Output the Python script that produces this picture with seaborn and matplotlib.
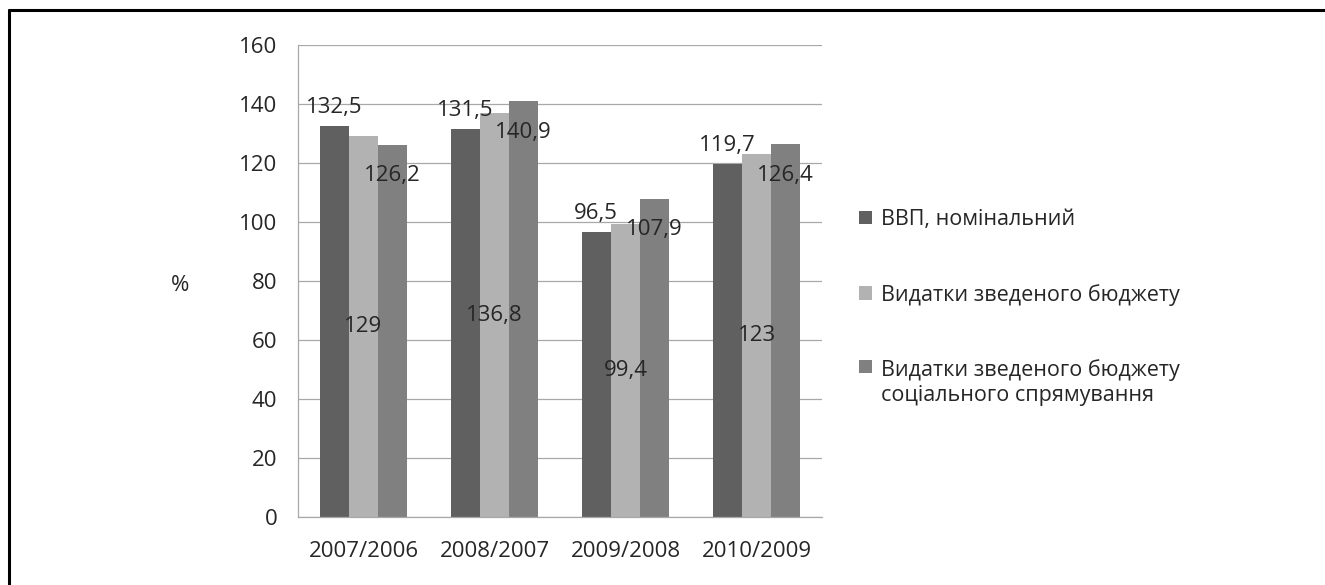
import pandas as pd
import seaborn as sns
import matplotlib.pyplot as plt
from matplotlib.lines import Line2D
from matplotlib.ticker import FixedLocator

# дані
periods = ["2007/2006", "2008/2007", "2009/2008", "2010/2009"]
series_names = ["ВВП, номінальний",
                "Видатки зведеного бюджету",
                "Видатки зведеного бюджету\nсоціального спрямування"]
gdp = [132.5, 131.5, 96.5, 119.7]
budget = [129, 136.8, 99.4, 123]
social = [126.2, 140.9, 107.9, 126.4]
colors = ["#606060", "#b2b2b2", "#808080"]

df = pd.DataFrame({
    "period": periods * 3,
    "series": [series_names[0]] * 4 + [series_names[1]] * 4 + [series_names[2]] * 4,
    "value": gdp + budget + social,
})

sns.set_style("white")
plt.rcParams["font.family"] = ["Open Sans", "DejaVu Sans"]
fs = 16

fig = plt.figure(figsize=(13.25, 5.85), dpi=100)
ax = fig.add_axes([298 / 1325, 1 - 517 / 585, 524 / 1325, 472 / 585])

sns.barplot(data=df, x="period", y="value", hue="series", palette=colors,
            width=0.67, saturation=1, linewidth=0, ax=ax)

# підписи даних
def fmt(v):
    return ("%g" % v).replace(".", ",")

conts = ax.containers
ax.bar_label(conts[0], labels=[fmt(v) for v in gdp], padding=6, fontsize=fs)
ax.bar_label(conts[1], labels=[fmt(v) for v in budget], label_type="center", fontsize=fs)
ax.bar_label(conts[2], labels=[fmt(v) for v in social], padding=-30, fontsize=fs)

ax.set_ylim(0, 160)
ax.set_yticks(range(0, 161, 20))
ax.set_xlim(-0.5, 3.5)
ax.grid(axis="y", color="#a8a8a8", linewidth=0.9)
ax.set_axisbelow(True)
for s in ["top", "right"]:
    ax.spines[s].set_visible(False)
for s in ["left", "bottom"]:
    ax.spines[s].set_color("#a8a8a8")
    ax.spines[s].set_linewidth(0.9)

ax.tick_params(axis="y", length=6, color="#a8a8a8", width=0.9, pad=9, labelsize=fs)
ax.tick_params(axis="x", which="major", length=0, pad=17, labelsize=fs)
ax.xaxis.set_minor_locator(FixedLocator([-0.5, 0.5, 1.5, 2.5, 3.5]))
ax.tick_params(axis="x", which="minor", length=6, color="#a8a8a8", width=0.9, direction="out")

ax.set_xlabel("")
ax.set_ylabel("%", rotation=0, fontsize=fs, va="center", ha="center")
ax.yaxis.set_label_coords(-0.225, 0.49)

leg = ax.legend(loc="upper left", bbox_to_anchor=(859 / 1325, 1 - 209 / 585),
                bbox_transform=fig.transFigure, frameon=False, fontsize=15.5,
                labelspacing=2.5, handlelength=0.6, handleheight=0.6,
                handletextpad=0.4, borderpad=0, borderaxespad=0)
# маркер третього пункту - на рівні першого рядка
for col in leg._legend_handle_box.get_children():
    items = col.get_children()
    items[-1].align = "top"

# рамка
fig.add_artist(Line2D([9 / 1325, 9 / 1325], [0, 1 - 10 / 585], transform=fig.transFigure,
                      color="black", linewidth=2.2))
fig.add_artist(Line2D([9 / 1325, 1], [1 - 10 / 585, 1 - 10 / 585], transform=fig.transFigure,
                      color="black", linewidth=2.2))

fig.savefig("out.png", dpi=100)
